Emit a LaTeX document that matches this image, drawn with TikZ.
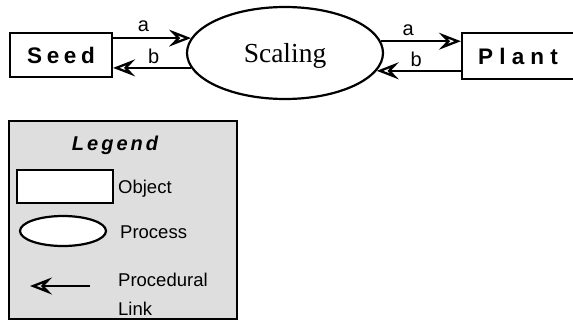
\documentclass[tikz,border=0pt]{standalone}
\usepackage{fontspec}
\setmainfont{Liberation Serif}
\setsansfont{Liberation Sans}
\usetikzlibrary{arrows.meta,shapes.geometric}
\begin{document}
\begin{tikzpicture}[x=1pt,y=-1pt,
  thing/.style={draw, line width=2.2pt, fill=white, inner sep=0pt, rectangle},
  proc/.style={draw, line width=2.2pt, fill=white, inner sep=0pt, ellipse},
  plink/.style={line width=2pt,
    -{Stealth[open, length=22pt, width=17pt, inset=8pt, line width=2.3pt]}},
  lbl/.style={font=\sffamily\fontsize{20}{20}\selectfont, inner sep=0pt},
  legtext/.style={font=\sffamily\fontsize{18.5}{29}\selectfont, inner sep=0pt,
    anchor=base west, align=left}]
\useasboundingbox (0,0) rectangle (573,321);
\clip (0,0) rectangle (573,321);

% main diagram: two objects around one process
\node[thing, minimum width=102pt, minimum height=44pt,
  font=\sffamily\bfseries\fontsize{22.5}{22.5}\selectfont] (seed) at (61,55)
  {S\kern4.6pt e\kern4.6pt e\kern4.6pt d};
\node[proc, minimum width=196pt, minimum height=92pt, text depth=0pt,
  font=\fontsize{27.5}{27.5}\selectfont] (scaling) at (285,53) {Scaling};
\node[thing, minimum width=112pt, minimum height=46pt,
  font=\sffamily\bfseries\fontsize{22.5}{22.5}\selectfont] (plant) at (518,56)
  {P\kern6.2pt l\kern6.2pt a\kern6.2pt n\kern6.2pt t};

% procedural links
\draw[plink] (seed.east |- scaling.171) -- node[lbl, above=5pt, pos=0.39] {a} (scaling.171);
\draw[plink] (scaling.189) -- node[lbl, above=3pt, pos=0.48] {b} (seed.east |- scaling.189);
\draw[plink] (scaling.7) -- node[lbl, above=5pt, pos=0.34] {a} (plant.west |- scaling.7);
\draw[plink] (plant.west |- scaling.349) -- node[lbl, above=3pt, pos=0.53] {b} (scaling.349);

% legend
\node[draw, line width=2pt, fill=black!13, inner sep=0pt, anchor=north west,
  minimum width=228pt, minimum height=198pt] (legend) at (8,120) {};
\node[font=\sffamily\bfseries\itshape\fontsize{20}{20}\selectfont,
  anchor=base, inner sep=0pt] (legtitle) at (115,150)
  {L\kern3pt e\kern3pt g\kern3pt e\kern3pt n\kern3pt d};
\node[thing, minimum width=96pt, minimum height=33pt] (legobj) at (65,186.5) {};
\node[legtext] (objtext) at (118,193) {Object};
\node[proc, minimum width=86pt, minimum height=30pt] (legproc) at (63,231) {};
\node[legtext] (proctext) at (120,238) {Process};
\coordinate (linktail) at (90,286);
\coordinate (linkhead) at (30,286);
\draw[plink] (linktail) -- (linkhead);
\node[legtext] (linktext) at (118,315) {Procedural\\Link};
\end{tikzpicture}
\end{document}
